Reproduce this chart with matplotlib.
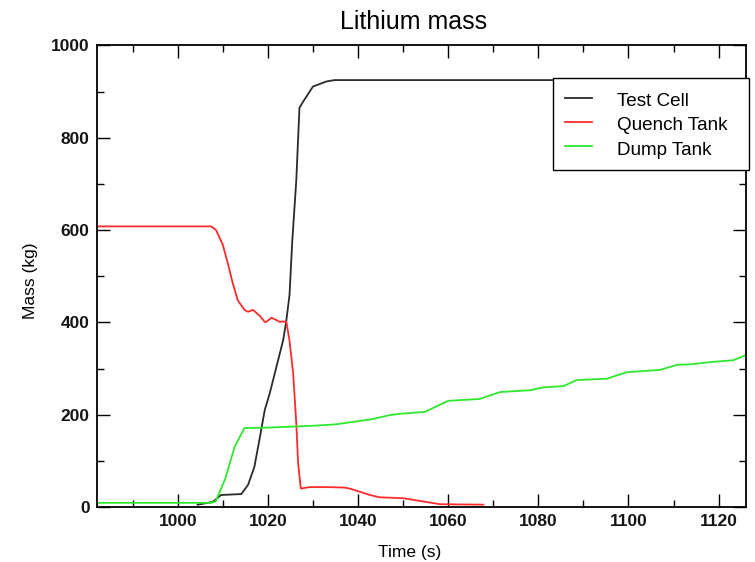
import matplotlib
matplotlib.use('Agg')
import matplotlib.pyplot as plt
from matplotlib.ticker import MultipleLocator

plt.rcParams['font.family'] = ['Liberation Sans', 'DejaVu Sans']

# ---- data ----
tc_t = [1004.4, 1007.8, 1009.6, 1014.1, 1015.6, 1017.0, 1018.2, 1019.3, 1020.4,
        1021.9, 1023.4, 1024.1, 1024.8, 1025.4, 1026.3, 1027.0, 1027.8, 1030.0,
        1033.0, 1034.8, 1126.0]
tc_m = [5, 11, 26, 28, 48, 87, 150, 210, 246,
        304, 362, 405, 460, 575, 708, 865, 878, 911,
        922, 925, 925]

qt_t = [982.0, 1007.4, 1008.5, 1010.0, 1011.1, 1012.2, 1013.3, 1014.8, 1015.6,
        1016.7, 1018.2, 1019.3, 1019.6, 1020.8, 1021.9, 1022.6, 1023.3, 1024.1,
        1024.8, 1025.6, 1026.3, 1026.7, 1027.3, 1029.2, 1033.7, 1037.0, 1038.1,
        1040.4, 1042.6, 1044.8, 1050.0, 1054.4, 1058.2, 1067.8]
qt_m = [608, 608, 600, 568, 528, 485, 448, 427, 423,
        427, 414, 401, 401, 410, 405, 401, 402, 401,
        360, 290, 181, 95, 40, 43, 43, 42, 40,
        33, 26, 21, 19, 12, 6, 5]

dt_t = [982.0, 1007.5, 1008.4, 1010.5, 1012.6, 1014.8, 1020.0, 1025.0, 1030.0,
        1035.0, 1040.0, 1043.0, 1047.0, 1049.3, 1054.8, 1060.0, 1067.0, 1071.5,
        1078.2, 1081.1, 1085.6, 1088.5, 1095.2, 1099.6, 1107.0, 1110.8, 1113.7,
        1118.2, 1123.3, 1126.0]
dt_m = [9, 9, 12, 60, 130, 171, 172, 174, 176,
        179, 186, 190, 199, 202, 206, 230, 234, 249,
        253, 259, 262, 275, 278, 292, 297, 308, 309,
        314, 318, 329]

series_labels = ['Test Cell', 'Quench Tank', 'Dump Tank']
x_ticks = [1000, 1020, 1040, 1060, 1080, 1100, 1120]
y_ticks = [0, 200, 400, 600, 800, 1000]

fig = plt.figure(figsize=(7.55, 5.62), dpi=100)
ax = fig.add_axes([0.128, 0.0979, 0.8596, 0.8212])

ax.plot(tc_t, tc_m, color='#2a2a2a', lw=1.3, label=series_labels[0])
ax.plot(qt_t, qt_m, color='#ff2a2a', lw=1.3, label=series_labels[1])
ax.plot(dt_t, dt_m, color='#2ee82e', lw=1.3, label=series_labels[2])

ax.set_xlim(982, 1126)
ax.set_ylim(0, 1000)
ax.set_xticks(x_ticks)
ax.set_yticks(y_ticks)
ax.xaxis.set_minor_locator(MultipleLocator(10))
ax.yaxis.set_minor_locator(MultipleLocator(100))
ax.tick_params(which='both', direction='in', top=True, right=True, width=1.0,
               colors='black', labelcolor='#151515')
ax.tick_params(which='major', length=9.5)
ax.tick_params(which='minor', length=5)
ax.tick_params(axis='both', labelsize=12.5, pad=5)
for lab in ax.get_xticklabels() + ax.get_yticklabels():
    lab.set_fontweight('bold')
for sp in ax.spines.values():
    sp.set_linewidth(1.3)

fig.text(413.5 / 755, 1 - 22 / 562, 'Lithium mass', ha='center', va='center', fontsize=18)
fig.text(410 / 755, 1 - 552 / 562, 'Time (s)', ha='center', va='center', fontsize=12.5)
fig.text(30 / 755, 1 - 281 / 562, 'Mass (kg)', ha='center', va='center', fontsize=12.5,
         rotation=90)

leg = ax.legend(loc='upper left', bbox_to_anchor=(0.703, 0.93, 0.302, 0), mode='expand',
                borderaxespad=0, fancybox=False, edgecolor='black', framealpha=1,
                fontsize=13.6, handlelength=1.45, handletextpad=1.35, labelspacing=0.2,
                handleheight=1.28, borderpad=0.62)
leg.get_frame().set_linewidth(1.0)

fig.savefig('out.png', dpi=100)
